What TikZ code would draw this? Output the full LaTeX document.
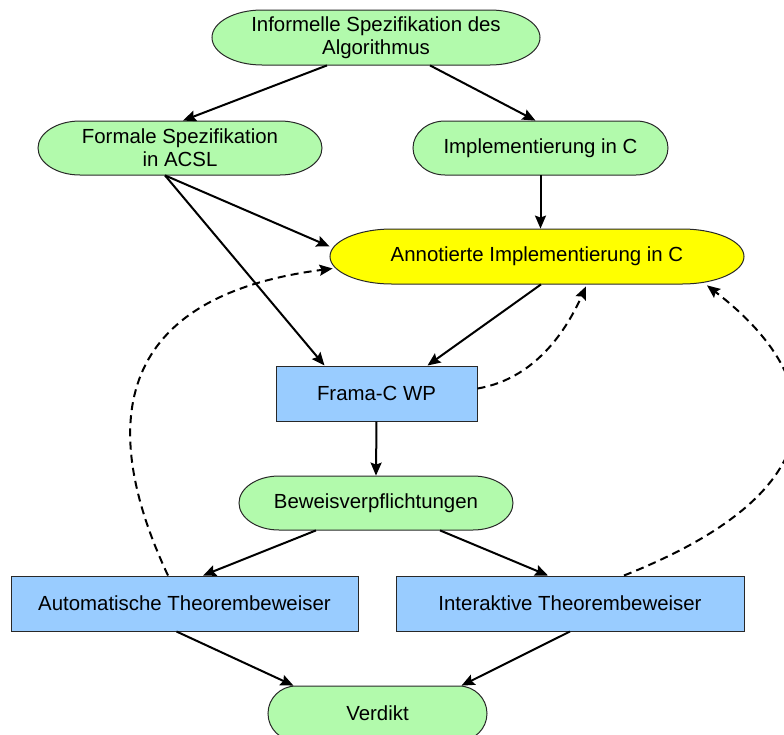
\documentclass[tikz,border=0pt]{standalone}
\usepackage{fontspec}
\setmainfont{Liberation Sans}
\usetikzlibrary{arrows.meta,calc}

\definecolor{pillgreen}{RGB}{178,250,172}
\definecolor{boxblue}{RGB}{153,204,255}
\definecolor{pillyellow}{RGB}{255,255,0}
\definecolor{edgegray}{RGB}{40,40,40}

% #1 name, #2 cx, #3 cy, #4 width, #5 height, #6 end radius (all in px), #7 fill, #8 text
\newcommand\pillnode[8]{%
  \path[draw=edgegray,line width=0.5pt,fill=#7]
    ({#2-#4/2+#6},{#3-#5/2}) -- ({#2+#4/2-#6},{#3-#5/2})
    arc[start angle=90,end angle=-90,x radius={0.5pt*#6},y radius={0.25pt*#5}]
    -- ({#2-#4/2+#6},{#3+#5/2})
    arc[start angle=270,end angle=90,x radius={0.5pt*#6},y radius={0.25pt*#5}]
    -- cycle;
  \node[label text,minimum width={0.5pt*#4},minimum height={0.5pt*#5}] (#1) at (#2,#3) {#8};}

\tikzset{
  label text/.style={shape=rectangle,inner sep=0pt,align=center,
    font=\fontsize{10.2}{11.7}\selectfont},
  toolbox/.style={label text,draw=edgegray,line width=0.5pt,fill=boxblue},
  flow/.style={line width=1pt,-{Stealth[length=6.5pt,width=5.5pt,inset=1pt]}},
  feedback/.style={flow,dash pattern=on 4pt off 2.6pt},
}

\begin{document}
\begin{tikzpicture}[x=0.5pt,y=-0.5pt]
\useasboundingbox (0,0) rectangle (784,735);
\clip (0,0) rectangle (784,735);

% specification and implementation
\pillnode{inf}{376}{37.5}{328}{55}{50}{pillgreen}{Informelle Spezifikation des\\Algorithmus}
\pillnode{form}{180}{148}{284}{54}{42}{pillgreen}{Formale Spezifikation\\in ACSL}
\pillnode{impl}{540.5}{148}{255}{54}{32}{pillgreen}{Implementierung in C}
\pillnode{ann}{537}{256.5}{414}{55}{62}{pillyellow}{Annotierte Implementierung in C}

% verification chain
\node[toolbox,minimum width=100.5pt,minimum height=27.5pt] (frama) at (376.5,393.5) {Frama-C WP};
\pillnode{bew}{376}{503}{274}{54}{40}{pillgreen}{Beweisverpflichtungen}
\node[toolbox,minimum width=173.5pt,minimum height=27.5pt] (auto) at (184.5,603.5) {Automatische Theorembeweiser};
\node[toolbox,minimum width=174pt,minimum height=27.5pt] (inter) at (570,603.5) {Interaktive Theorembeweiser};
\pillnode{verd}{377.5}{713.5}{219}{55}{28}{pillgreen}{Verdikt}

% forward flow
\draw[flow] ($(inf.south)+(-49,0)$) -- ($(form.north)+(3,0)$);
\draw[flow] ($(inf.south)+(54,0)$) -- ($(impl.north)+(-5,0)$);
\draw[flow] ($(form.south)+(-15,0)$) -- ($(ann.west)+(0,-10)$);
\draw[flow] ($(form.south)+(-15,0)$) -- ($(frama.north)+(-52,0)$);
\draw[flow] ($(impl.south)+(0,0)$) -- ($(ann.north)+(3.5,0)$);
\draw[flow] ($(ann.south)+(4,0)$) -- ($(frama.north)+(51,0)$);
\draw[flow] (frama.south) -- (bew.north);
\draw[flow] ($(bew.south)+(-60,0)$) -- ($(auto.north)+(18.5,0)$);
\draw[flow] ($(bew.south)+(64,0)$) -- ($(inter.north)+(-22,0)$);
\draw[flow] ($(auto.south)+(-8,0)$) -- ($(verd.north)+(-84,0)$);
\draw[flow] ($(inter.south)+(0,0)$) -- ($(verd.north)+(84,0)$);

% feedback to the annotated code
\draw[feedback] ($(frama.east)+(0,-5)$) .. controls (540,378) and (570,322) .. ($(ann.south)+(49,2)$);
\draw[feedback] ($(auto.north)+(-16.5,0)$) .. controls (95,420) and (118,296) .. ($(ann.west)+(3,12)$);
\draw[feedback] ($(inter.north)+(54,0)$) .. controls (840,490) and (830,380) .. ($(ann.south)+(170,1)$);
\end{tikzpicture}
\end{document}
